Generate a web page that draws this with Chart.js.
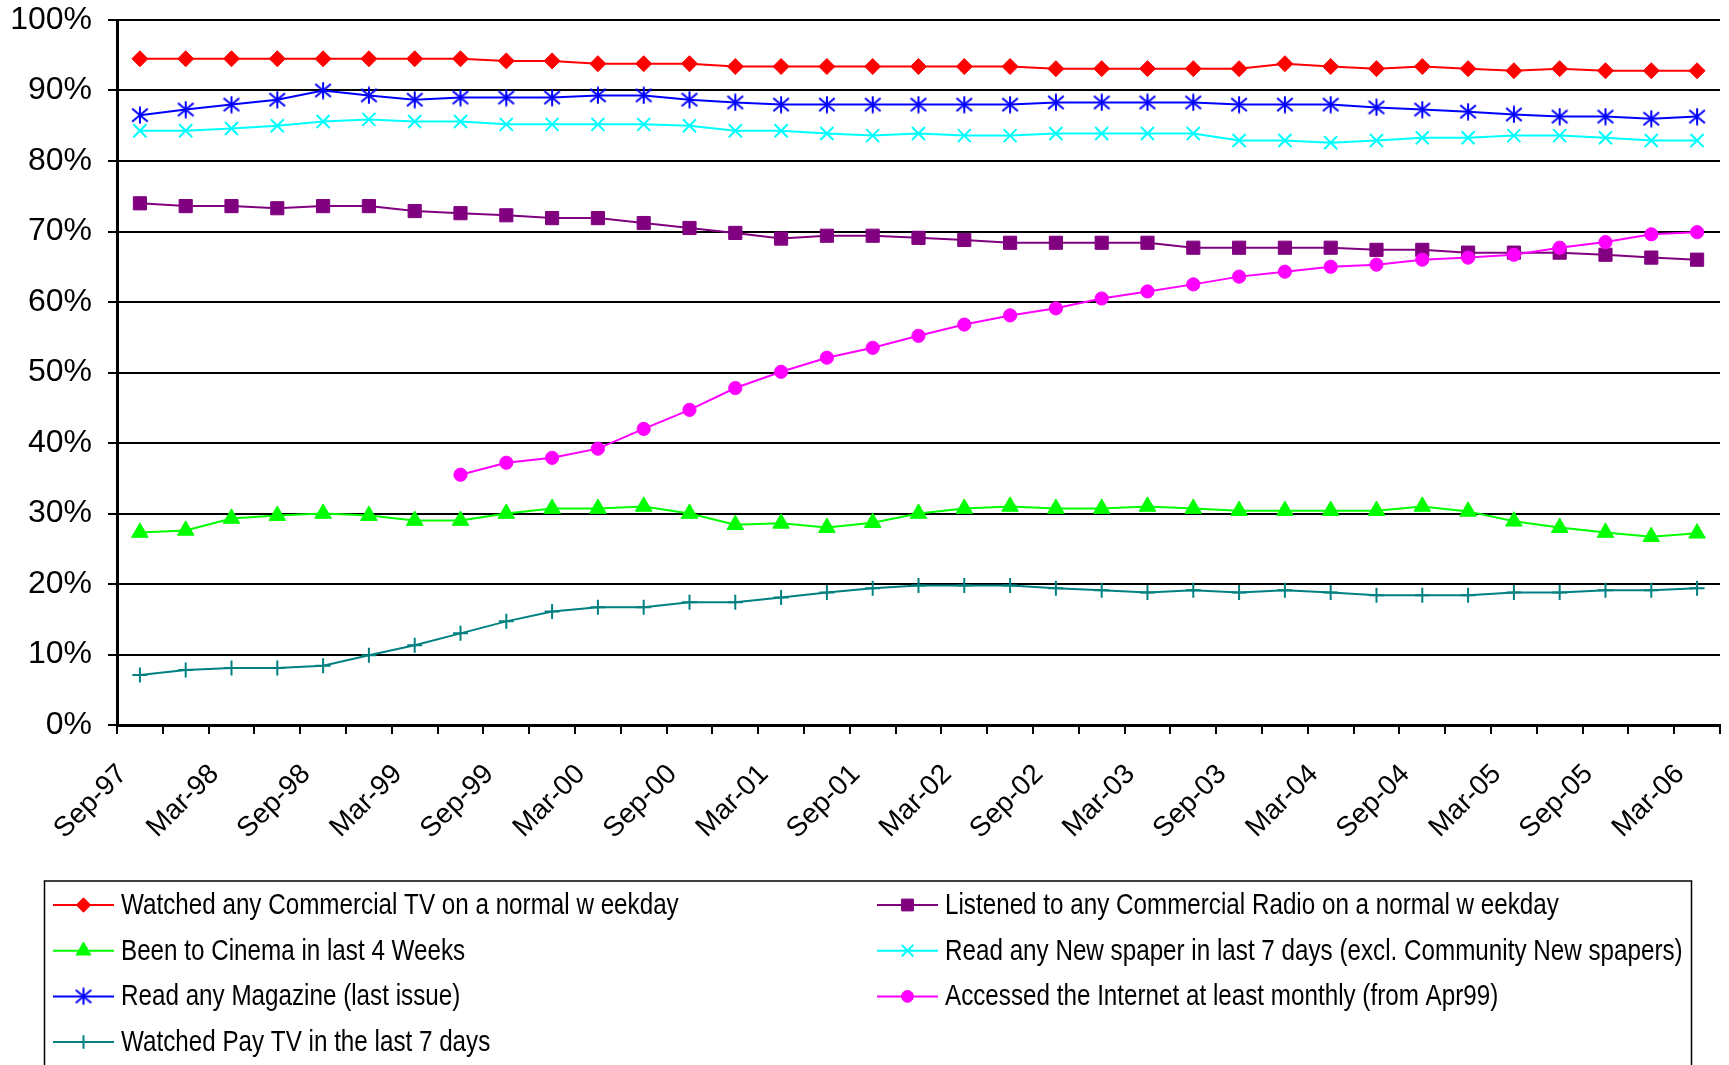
<!DOCTYPE html>
<html>
<head>
<meta charset="utf-8">
<script src="https://cdn.jsdelivr.net/npm/chart.js@4.4.1/dist/chart.umd.min.js"></script>
<style>
  html, body { margin: 0; padding: 0; background: #fff; overflow: hidden; width: 1729px; height: 1065px; }
  canvas { display: block; }
</style>
</head>
<body>
<canvas id="chart" width="1745" height="1065"></canvas>
<script>
// Quarterly survey periods
const quarters = ['Sep-97','Dec-97','Mar-98','Jun-98','Sep-98','Dec-98','Mar-99','Jun-99','Sep-99','Dec-99',
  'Mar-00','Jun-00','Sep-00','Dec-00','Mar-01','Jun-01','Sep-01','Dec-01','Mar-02','Jun-02',
  'Sep-02','Dec-02','Mar-03','Jun-03','Sep-03','Dec-03','Mar-04','Jun-04','Sep-04','Dec-04',
  'Mar-05','Jun-05','Sep-05','Dec-05','Mar-06'];

// Reach (%) per quarter
const commercialTV = [94.5,94.5,94.5,94.5,94.5,94.5,94.5,94.5,94.2,94.2,93.8,93.8,93.8,93.4,93.4,93.4,93.4,93.4,93.4,93.4,
  93.1,93.1,93.1,93.1,93.1,93.8,93.4,93.1,93.4,93.1,92.8,93.1,92.8,92.8,92.8];
const commercialRadio = [74.0,73.6,73.6,73.3,73.6,73.6,72.9,72.6,72.3,71.9,71.9,71.2,70.5,69.8,69.0,69.4,69.4,69.1,68.8,68.4,
  68.4,68.4,68.4,67.7,67.7,67.7,67.7,67.4,67.4,67.0,67.0,67.0,66.7,66.3,66.0];
const cinema = [27.3,27.6,29.3,29.7,30.0,29.7,29.0,29.0,30.0,30.7,30.7,31.0,30.0,28.4,28.6,28.0,28.7,30.0,30.7,31.0,
  30.7,30.7,31.0,30.7,30.4,30.4,30.4,30.4,31.0,30.3,28.9,28.0,27.3,26.7,27.2];
const newspaper = [84.3,84.3,84.6,85.0,85.6,85.9,85.6,85.6,85.2,85.2,85.2,85.2,85.0,84.3,84.3,83.9,83.6,83.9,83.6,83.6,
  83.9,83.9,83.9,83.9,82.9,82.9,82.6,82.9,83.3,83.3,83.6,83.6,83.3,82.9,82.9];
const magazine = [86.5,87.3,88.0,88.7,90.0,89.3,88.7,89.0,89.0,89.0,89.3,89.3,88.7,88.3,88.0,88.0,88.0,88.0,88.0,88.0,
  88.3,88.3,88.3,88.3,88.0,88.0,88.0,87.6,87.3,87.0,86.6,86.3,86.3,86.0,86.3];
const internet = [null,null,null,null,null,null,null,35.5,37.2,37.9,39.2,42.0,44.7,47.8,50.1,52.1,53.5,55.2,56.8,58.1,
  59.1,60.5,61.5,62.5,63.6,64.3,65.0,65.3,66.0,66.3,66.7,67.7,68.5,69.6,69.9];
const payTV = [7.1,7.8,8.1,8.1,8.4,9.9,11.3,13.0,14.7,16.1,16.7,16.7,17.4,17.4,18.1,18.8,19.4,19.8,19.8,19.8,
  19.4,19.1,18.8,19.1,18.8,19.1,18.8,18.4,18.4,18.4,18.8,18.8,19.1,19.1,19.4];

const yTicks = [0,10,20,30,40,50,60,70,80,90,100];

// Six-armed asterisk marker (vertical stroke plus a diagonal cross)
function asteriskMarker(color, s) {
  const c = document.createElement('canvas');
  c.width = s; c.height = s;
  const g = c.getContext('2d');
  const m = s / 2, a = 1.2;
  g.strokeStyle = color; g.lineWidth = 2;
  g.beginPath();
  g.moveTo(m, 0.5); g.lineTo(m, s - 0.5);
  g.moveTo(a, a + 1.2); g.lineTo(s - a, s - a - 1.2);
  g.moveTo(s - a, a + 1.2); g.lineTo(a, s - a - 1.2);
  g.stroke();
  return c;
}

function series(label, data, color, style, radius, order, extra) {
  return Object.assign({
    label, data, order,
    borderColor: color, backgroundColor: color,
    pointBackgroundColor: color, pointBorderColor: color,
    borderWidth: 2, pointStyle: style, pointRadius: radius, pointHoverRadius: radius,
    pointBorderWidth: 1, tension: 0, spanGaps: false
  }, extra || {});
}

const datasets = [
  series('Watched any Commercial TV on a normal w eekday', commercialTV, '#FF0000', 'rectRot', 8, 7),
  series('Listened to any Commercial Radio on a normal w eekday', commercialRadio, '#800080', 'rect', 9.3, 6),
  series('Been to Cinema in last 4 Weeks', cinema, '#00FF00', 'triangle', 9.6, 5),
  series('Read any New spaper in last 7 days (excl. Community New spapers)', newspaper, '#00FFFF', 'crossRot', 9.2, 4, { pointBorderWidth: 2 }),
  series('Read any Magazine (last issue)', magazine, '#0000FF', asteriskMarker('#0000FF', 18), 9, 3),
  series('Accessed the Internet at least monthly (from Apr99)', internet, '#FF00FF', 'circle', 6.6, 2),
  series('Watched Pay TV in the last 7 days', payTV, '#008080', 'cross', 7.5, 1, { pointBorderWidth: 2 })
];

// Legend: left column holds the first four entries, right column the rest
const legendColumns = [[0, 2, 4, 6], [1, 3, 5]];

const boxLegend = {
  id: 'boxLegend',
  afterDraw(chart) {
    const ctx = chart.ctx;
    ctx.save();
    ctx.strokeStyle = '#000';
    ctx.lineWidth = 1.5;
    ctx.strokeRect(44.5, 881, 1647, 250);
    const colX = [53, 877];
    legendColumns.forEach((col, ci) => {
      col.forEach((di, row) => {
        const ds = chart.data.datasets[di];
        const x0 = colX[ci];
        const y = 905 + row * 45.7;
        ctx.strokeStyle = ds.borderColor;
        ctx.lineWidth = 2;
        ctx.beginPath();
        ctx.moveTo(x0, y); ctx.lineTo(x0 + 61, y);
        ctx.stroke();
        ctx.fillStyle = ds.pointBackgroundColor;
        ctx.strokeStyle = ds.pointBorderColor;
        ctx.lineWidth = ds.pointBorderWidth;
        Chart.helpers.drawPoint(ctx, {
          pointStyle: ds.pointStyle, radius: ds.pointRadius * 0.9,
          borderWidth: ds.pointBorderWidth, rotation: 0
        }, x0 + 30.5, y);
        ctx.save();
        ctx.fillStyle = '#000';
        ctx.font = '28px "Liberation Sans", Arial, sans-serif';
        ctx.textBaseline = 'middle';
        ctx.translate(x0 + 68, y + 1);
        ctx.scale(0.865, 1.03);
        ctx.fillText(ds.label, 0, 0);
        ctx.restore();
      });
    });
    ctx.restore();
  }
};

new Chart(document.getElementById('chart'), {
  type: 'line',
  data: { labels: quarters, datasets },
  plugins: [boxLegend],
  options: {
    responsive: false,
    animation: false,
    devicePixelRatio: 1,
    layout: { padding: { top: 20, left: 0, right: 8, bottom: 0 } },
    plugins: { legend: { display: false }, tooltip: { enabled: false } },
    scales: {
      x: {
        type: 'category',
        offset: true,
        afterFit(scale) { scale.height = 340; },
        grid: { offset: true, drawOnChartArea: false, drawTicks: true, tickLength: 9, color: '#000', lineWidth: 2 },
        border: { display: true, color: '#000', width: 3 },
        ticks: {
          autoSkip: false, maxRotation: 45, minRotation: 45,
          padding: 24, labelOffset: -17,
          color: '#000',
          font: { family: '"Liberation Sans", Arial, sans-serif', size: 28 },
          callback: (v, i) => (i % 2 === 0 ? quarters[i] : '')
        }
      },
      y: {
        min: 0, max: 100,
        afterFit(scale) { scale.width = 117; scale.paddingTop = 0; scale.paddingBottom = 0; },
        afterBuildTicks(scale) { scale.ticks = yTicks.map(v => ({ value: v })); },
        grid: { color: '#000', lineWidth: 2, tickLength: 9, drawTicks: true },
        border: { display: true, color: '#000', width: 3 },
        ticks: {
          padding: 16, color: '#000',
          font: { family: '"Liberation Sans", Arial, sans-serif', size: 32 },
          callback: v => v + '%'
        }
      }
    }
  }
});
</script>
</body>
</html>
